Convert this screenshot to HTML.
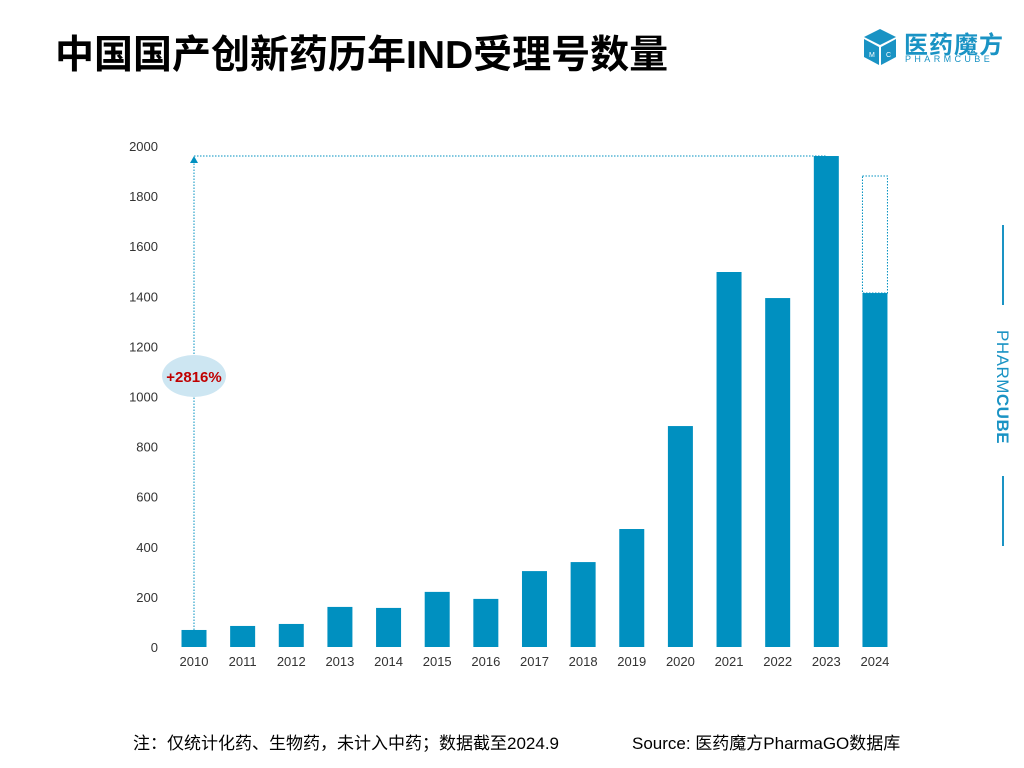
<!DOCTYPE html>
<html><head><meta charset="utf-8"><style>
body{margin:0;width:1024px;height:768px;background:#fff;overflow:hidden;position:relative;font-family:"Liberation Sans","Noto Sans CJK SC",sans-serif}
.t{position:absolute;left:55px;top:24px;font-size:39px;font-weight:bold;color:#000;white-space:nowrap}
.note{position:absolute;top:729px;font-size:17px;color:#000}
</style></head><body>
<div class="t">中国国产创新药历年IND受理号数量</div>
<div style="position:absolute;left:862px;top:27px;width:160px;height:40px">
<svg width="36" height="40" viewBox="0 0 36 40" style="position:absolute;left:0;top:0"><polygon points="18,2 34,10 18,18 2,10" fill="#1a93c4"/><polygon points="2,12 17,20 17,38 2,30" fill="#1a93c4"/><polygon points="19,20 34,12 34,30 19,38" fill="#1a93c4"/><text x="7" y="30" font-size="7" fill="#fff">M</text><text x="24" y="30" font-size="7" fill="#fff">C</text></svg>
<div style="position:absolute;left:42px;top:-2px;font-size:24px;font-weight:bold;color:#1a93c4;letter-spacing:1px">医药魔方</div>
<div style="position:absolute;left:43px;top:27px;font-size:9px;color:#1a93c4;letter-spacing:3.4px">PHARMCUBE</div>
</div>
<div style="position:absolute;left:1002px;top:225px;width:2px;height:80px;background:#1a93c4"></div>
<div style="position:absolute;left:992px;top:330px;width:20px;height:120px"><div style="transform:rotate(90deg);transform-origin:0 0;position:absolute;left:20px;top:0;font-size:17px;color:#1a93c4;white-space:nowrap;letter-spacing:0.5px">PHARM<b>CUBE</b></div></div>
<div style="position:absolute;left:1002px;top:476px;width:2px;height:70px;background:#1a93c4"></div>
<svg id="c" width="1024" height="768" style="position:absolute;left:0;top:0"></svg>
<div class="note" style="left:133px">注：仅统计化药、生物药，未计入中药；数据截至2024.9</div>
<div class="note" style="left:632px">Source: 医药魔方PharmaGO数据库</div>
<script>
const years=["2010","2011","2012","2013","2014","2015","2016","2017","2018","2019","2020","2021","2022","2023","2024"];
const counts=[68,84,92,160,156,220,192,303,339,471,882,1497,1393,1960,1413];
const projected2024=[1880];
const yTicks=[0,200,400,600,800,1000,1200,1400,1600,1800,2000];
const growthLabel=["+2816%"];
const svg=document.getElementById('c');const NS='http://www.w3.org/2000/svg';
function y(v){return 647-v*0.2505;}
function x(i){return 194+i*48.64;}
function mk(t,a,txt){const e=document.createElementNS(NS,t);for(const k in a)e.setAttribute(k,a[k]);if(txt!=null)e.textContent=txt;svg.appendChild(e);return e;}
yTicks.forEach(v=>{const e=mk('text',{x:158,y:y(v)+5,'text-anchor':'end','font-size':13,fill:'#333','font-family':'Liberation Sans'},v);

});
counts.forEach((v,i)=>{const r=mk('rect',{x:x(i)-12.5,y:y(v),width:25,height:647-y(v),fill:'#0090c0'});


const t=mk('text',{x:x(i),y:666,'text-anchor':'middle','font-size':13,fill:'#333','font-family':'Liberation Sans'},years[i]);

});
const li=years.length-1;
const p=mk('rect',{x:x(li)-12.5,y:y(projected2024[0]),width:25,height:y(counts[li])-y(projected2024[0]),fill:'none',stroke:'#0090c0','stroke-width':1,'stroke-dasharray':'1.5,1.5'});


const topY=y(counts[13]);
const hl=mk('line',{x1:x(0),y1:topY,x2:x(13),y2:topY,stroke:'#0090c0','stroke-width':1,'stroke-dasharray':'1.5,1.5'});


const vl=mk('line',{x1:x(0),y1:y(counts[0]),x2:x(0),y2:topY+5,stroke:'#0090c0','stroke-width':1,'stroke-dasharray':'1.5,1.5'});


mk('polygon',{points:`${x(0)-4},${topY+7} ${x(0)+4},${topY+7} ${x(0)},${topY}`,fill:'#0090c0'});
const el=mk('ellipse',{cx:x(0),cy:376,rx:32,ry:21,fill:'#cde6f2'});


const gt=mk('text',{x:x(0),y:382,'text-anchor':'middle','font-size':15,'font-weight':'bold',fill:'#c00000','font-family':'Liberation Sans'},growthLabel[0]);


</script>
</body></html>
